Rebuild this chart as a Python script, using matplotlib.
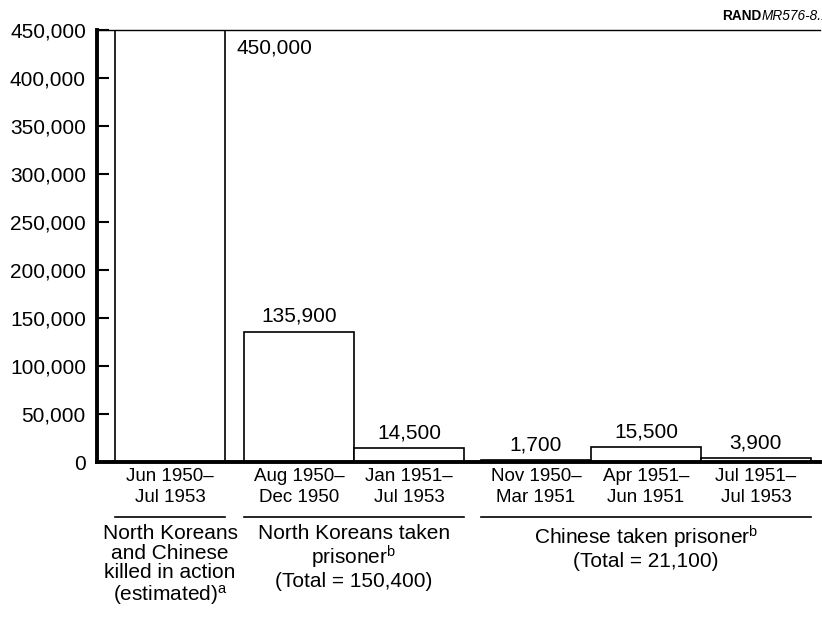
import matplotlib
matplotlib.use("Agg")
import matplotlib.pyplot as plt
import matplotlib.transforms as mtransforms

plt.rcParams['font.family'] = ['Liberation Sans', 'DejaVu Sans']
plt.rcParams['mathtext.fontset'] = 'custom'
plt.rcParams['mathtext.rm'] = 'Liberation Sans'
plt.rcParams['mathtext.it'] = 'Liberation Sans:italic'
plt.rcParams['mathtext.bf'] = 'Liberation Sans:bold'

# ---- data ----
periods = ["Jun 1950–\nJul 1953",
           "Aug 1950–\nDec 1950", "Jan 1951–\nJul 1953",
           "Nov 1950–\nMar 1951", "Apr 1951–\nJun 1951", "Jul 1951–\nJul 1953"]
values = [450000, 135900, 14500, 1700, 15500, 3900]
value_labels = ["450,000", "135,900", "14,500", "1,700", "15,500", "3,900"]
groups = ["North Koreans\nand Chinese\nkilled in action\n(estimated)$^{\\rm a}$",
          "North Koreans taken\nprisoner$^{\\rm b}$\n(Total = 150,400)",
          "Chinese taken prisoner$^{\\rm b}$\n(Total = 21,100)"]
group_members = [[0], [1, 2], [3, 4, 5]]
yticks = [0, 50000, 100000, 150000, 200000, 250000, 300000, 350000, 400000, 450000]
ytick_labels = ["0", "50,000", "100,000", "150,000", "200,000", "250,000",
                "300,000", "350,000", "400,000", "450,000"]

# layout (bar centres in bar-width units)
xpos = [0.664, 1.836, 2.836, 3.99, 4.99, 5.99]
width = 1.0

fig = plt.figure(figsize=(8.22, 6.22), dpi=100)
ax = fig.add_axes([97/822, 1 - 462/622, 723/822, 432/622])

ax.bar(xpos, values, width=width, color='white', edgecolor='black', linewidth=1.2, zorder=2)
ax.set_xlim(0, 723/110)
ax.set_ylim(0, 450000)

ax.set_yticks(yticks)
ax.set_yticklabels(ytick_labels, fontsize=15)
ax.tick_params(axis='y', direction='in', length=8.5, width=1.5, pad=8)
ax.set_xticks([])

for s in ['left', 'bottom']:
    ax.spines[s].set_linewidth(2.8)
ax.spines['top'].set_linewidth(1.0)
ax.spines['right'].set_visible(False)

# value labels
for i, (x, v, lab) in enumerate(zip(xpos, values, value_labels)):
    if i == 0:
        ax.annotate(lab, xy=(x + width/2, v), xytext=(8, -6), textcoords='offset points',
                    ha='left', va='top', fontsize=15)
    else:
        ax.annotate(lab, xy=(x, v), xytext=(0, 4), textcoords='offset points',
                    ha='center', va='bottom', fontsize=15)

trans = mtransforms.blended_transform_factory(ax.transData, ax.transAxes)

# period labels
for x, p in zip(xpos, periods):
    ax.text(x, -0.058, p, transform=trans, ha='center', va='center',
            fontsize=13.5, linespacing=1.3)

# group underlines and labels
for g, members in zip(groups, group_members):
    x0 = xpos[members[0]] - width/2
    x1 = xpos[members[-1]] + width/2
    ax.plot([x0, x1], [-0.127, -0.127], transform=trans, color='black',
            linewidth=1.2, clip_on=False)
    ax.text((x0 + x1)/2, -0.143, g, transform=trans, ha='center', va='top',
            fontsize=15, linespacing=1.05)

# source tag
t1 = fig.text(722/822, 1 - 20/622, "RAND", fontsize=9.8, weight='bold', va='baseline', ha='left')
ax.annotate("MR576-8.1", xy=(1, 0), xycoords=t1, xytext=(0, 0), textcoords='offset points',
            ha='left', va='bottom', fontsize=9.8, style='italic', annotation_clip=False)

fig.savefig("out.png", dpi=100)
